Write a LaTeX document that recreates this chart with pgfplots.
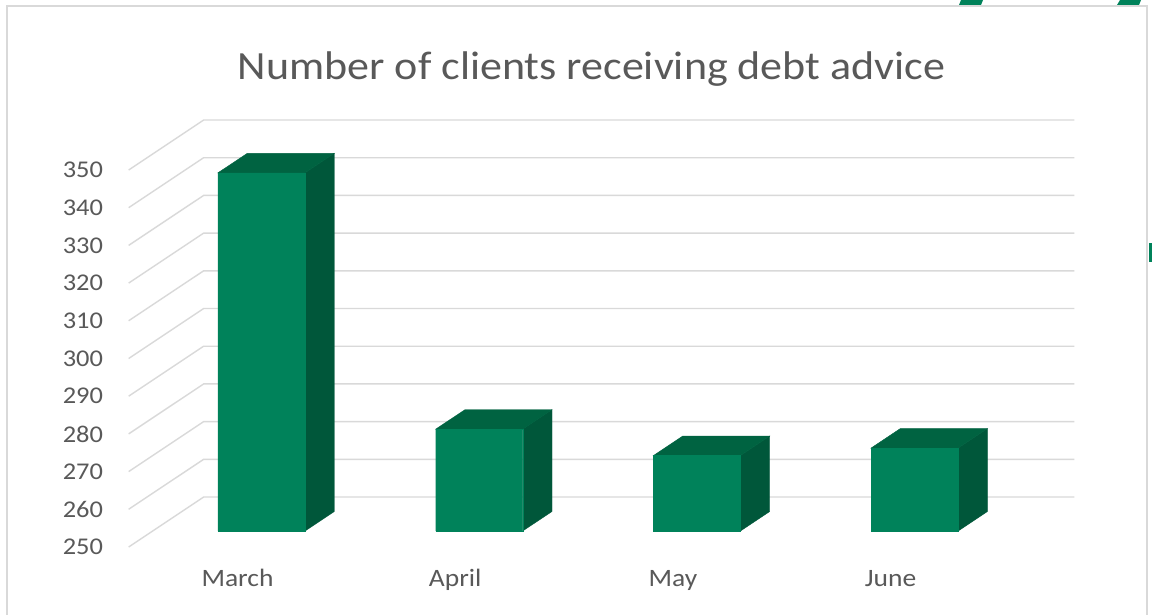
\documentclass[border=0pt]{standalone}
\usepackage{fontspec}
\setmainfont{Carlito}[FakeStretch=1.1]
\usepackage{pgfplots}
\usepackage{pgfplotstable}
\pgfplotsset{compat=1.18}
\definecolor{frontgreen}{HTML}{00825A}
\definecolor{sidegreen}{HTML}{00573A}
\definecolor{topgreen}{HTML}{006341}
\definecolor{gridgray}{HTML}{D9D9D9}
\definecolor{labelgray}{HTML}{595959}
\definecolor{framegray}{HTML}{D9D9D9}

\pgfplotstableread{
c v
0 345
1 277
2 270
3 272
}\datatable

\begin{document}
\begin{tikzpicture}[x=1pt,y=1pt]
\useasboundingbox (0,0) rectangle (1152,614);
\clip (0,0) rectangle (1152,614);
\fill[white] (0,0) rectangle (1152,614);
% chart frame
\draw[framegray, line width=1.5pt] (7,-5) -- (7,608) -- (1147,608) -- (1147,-5);
% handles of the surrounding selection
\fill[frontgreen] (961,614) -- (983,614) -- (981,609) -- (959,609) -- cycle;
\fill[frontgreen] (1120,614) -- (1141,614) -- (1139,609) -- (1117,609) -- cycle;
\fill[frontgreen] (1149,371) rectangle (1152,352);
% title
\node[anchor=base, text=labelgray, font=\fontsize{40}{48}\selectfont, inner sep=0pt]
  at (591.5,534) {Number of clients receiving debt advice};
\begin{axis}[
  at={(109.11pt,45.3pt)}, anchor=south west,
  scale only axis, width=979.65pt, height=459.94pt,
  xmin=-0.7, xmax=3.8, ymin=240, ymax=362,
  y coord trafo/.code={\pgfmathparse{#1-250}},
  y coord inv trafo/.code={\pgfmathparse{#1+250}},
  clip=false,
  axis line style={draw=none},
  tick style={draw=none},
  major tick length=0pt,
  xtick={-0.1102,0.8898,1.8898,2.8898},
  xticklabels={March,April,May,June},
  ytick={245.757,255.757,265.757,275.757,285.757,295.757,305.757,315.757,325.757,335.757,345.757},
  yticklabels={250,260,270,280,290,300,310,320,330,340,350},
  yticklabel style={anchor=east, inner sep=0pt, xshift=-6pt, text=labelgray, font=\fontsize{24}{28}\selectfont},
  xticklabel style={anchor=base, inner sep=0pt, yshift=-18pt, text=labelgray, font=\fontsize{25}{30}\selectfont},
]
% gridlines: left wall diagonal + back wall
\pgfplotsset{gridstyle/.style={gridgray, line width=1.4pt}}
\addplot[gridstyle] coordinates {(-0.6102,245.757) (-0.2657,259.017) (3.7343,259.017)};
\addplot[gridstyle] coordinates {(-0.6102,255.757) (-0.2657,269.017) (3.7343,269.017)};
\addplot[gridstyle] coordinates {(-0.6102,265.757) (-0.2657,279.017) (3.7343,279.017)};
\addplot[gridstyle] coordinates {(-0.6102,275.757) (-0.2657,289.017) (3.7343,289.017)};
\addplot[gridstyle] coordinates {(-0.6102,285.757) (-0.2657,299.017) (3.7343,299.017)};
\addplot[gridstyle] coordinates {(-0.6102,295.757) (-0.2657,309.017) (3.7343,309.017)};
\addplot[gridstyle] coordinates {(-0.6102,305.757) (-0.2657,319.017) (3.7343,319.017)};
\addplot[gridstyle] coordinates {(-0.6102,315.757) (-0.2657,329.017) (3.7343,329.017)};
\addplot[gridstyle] coordinates {(-0.6102,325.757) (-0.2657,339.017) (3.7343,339.017)};
\addplot[gridstyle] coordinates {(-0.6102,335.757) (-0.2657,349.017) (3.7343,349.017)};
\addplot[gridstyle] coordinates {(-0.6102,345.757) (-0.2657,359.017) (3.7343,359.017)};
% side and top faces of the bars
\pgfplotsforeachungrouped \i in {0,1,2,3}{%
  \pgfplotstablegetelem{\i}{v}\of\datatable
  \let\val\pgfplotsretval
  \pgfmathsetmacro\xa{\i+0.2}%
  \pgfmathsetmacro\xb{\i+0.3344}%
  \pgfmathsetmacro\xc{\i-0.2}%
  \pgfmathsetmacro\xd{\i-0.0656}%
  \pgfmathsetmacro\vt{\val+5.171}%
  \edef\tmp{%
    \noexpand\addplot[fill=sidegreen, draw=sidegreen, line width=0.4pt] coordinates {(\xa,250) (\xa,\val) (\xb,\vt) (\xb,255.171)} -- cycle;
    \noexpand\addplot[fill=topgreen, draw=topgreen, line width=0.4pt] coordinates {(\xc,\val) (\xa,\val) (\xb,\vt) (\xd,\vt)} -- cycle;
  }%
  \tmp
}
% front faces
\addplot[ybar, bar width=0.4, bar shift=0pt, fill=frontgreen, draw=frontgreen, line width=0.3pt] table[x=c, y=v] {\datatable};
\end{axis}
\end{tikzpicture}
\end{document}
